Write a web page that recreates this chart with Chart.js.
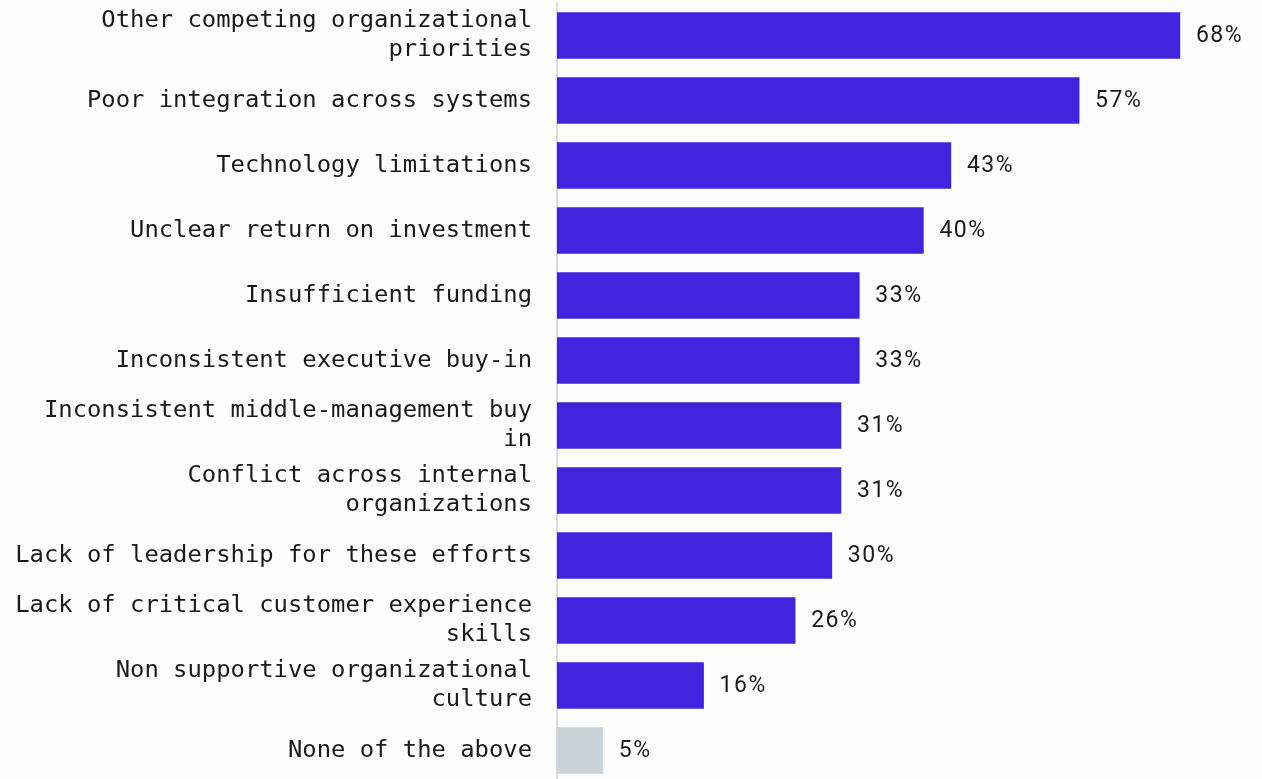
<!DOCTYPE html>
<html>
<head>
<meta charset="utf-8">
<script src="https://cdn.jsdelivr.net/npm/chart.js@4/dist/chart.umd.min.js"></script>
<style>
  html, body { margin: 0; padding: 0; background: #fdfdfe; overflow: hidden; }
  #wrap { position: absolute; left: 0; top: 0; width: 1262px; height: 783px; }
</style>
</head>
<body>
<div id="wrap"><canvas id="c"></canvas></div>
<script>
// Barriers, as share of respondents (%)
const categories = [
  ["Other competing organizational", "priorities"],
  "Poor integration across systems",
  "Technology limitations",
  "Unclear return on investment",
  "Insufficient funding",
  "Inconsistent executive buy-in",
  ["Inconsistent middle-management buy", "in"],
  ["Conflict across internal", "organizations"],
  "Lack of leadership for these efforts",
  ["Lack of critical customer experience", "skills"],
  ["Non supportive organizational", "culture"],
  "None of the above"
];
const values = [68, 57, 43, 40, 33, 33, 31, 31, 30, 26, 16, 5];
const barColors = values.map((v, i) => i === values.length - 1 ? "#c9d3d9" : "#4224de");

// Writes "NN%" just past the end of each bar
const valueLabels = {
  id: "valueLabels",
  afterDatasetsDraw(chart) {
    const { ctx } = chart;
    const meta = chart.getDatasetMeta(0);
    ctx.save();
    ctx.font = "23px Roboto";
    ctx.letterSpacing = "1.5px";
    ctx.fillStyle = "#1a1a1a";
    ctx.textAlign = "left";
    ctx.textBaseline = "middle";
    meta.data.forEach((bar, i) => {
      ctx.fillText(values[i] + "%", bar.x + 16, bar.y + 1);
    });
    ctx.restore();
  }
};

new Chart(document.getElementById("c"), {
  type: "bar",
  data: {
    labels: categories,
    datasets: [{
      data: values,
      backgroundColor: barColors,
      barThickness: 46,
      borderWidth: 0
    }]
  },
  options: {
    indexAxis: "y",
    responsive: true,
    maintainAspectRatio: false,
    animation: false,
    layout: { padding: { top: 3, right: 18, bottom: 0, left: 0 } },
    plugins: { legend: { display: false }, tooltip: { enabled: false } },
    scales: {
      x: { display: false, min: 0, max: 75 },
      y: {
        afterFit(scale) {
          scale.width = 557;
          scale.paddingTop = 0;
          scale.paddingBottom = 0;
        },
        grid: { display: true, color: "transparent", drawTicks: false },
        border: { display: true, color: "#dcdcdc", width: 2 },
        ticks: {
          padding: 25,
          color: "#1a1a1a",
          font: { family: "'DejaVu Sans Mono', monospace", size: 23.85, lineHeight: 1.2 }
        }
      }
    }
  },
  plugins: [valueLabels]
});
</script>
</body>
</html>
